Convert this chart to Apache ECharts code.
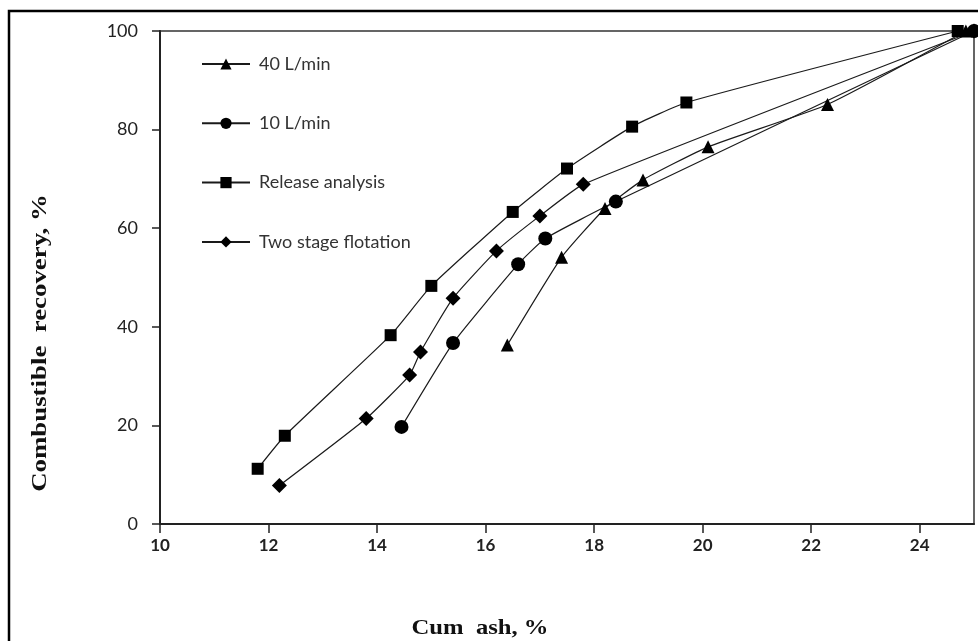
<!DOCTYPE html>
<html>
<head>
<meta charset="utf-8">
<script src="https://cdn.jsdelivr.net/npm/echarts@6/dist/echarts.min.js"></script>
<style>html,body{margin:0;padding:0;background:#fff;}#c{width:978px;height:641px;}</style>
</head>
<body>
<div id="c"></div>
<script>
var seriesNames = ['40 L/min', '10 L/min', 'Release analysis', 'Two stage flotation'];
var seriesSymbols = ['triangle', 'circle', 'rect', 'diamond'];
var flow40 = [[16.4,36.3],[17.4,54.1],[18.2,64.0],[18.9,69.8],[20.1,76.5],[22.3,85.1],[24.85,100]];
var flow10 = [[14.45,19.7],[15.4,36.7],[16.6,52.7],[17.1,57.9],[18.4,65.4],[25,100]];
var releaseAnalysis = [[11.8,11.2],[12.3,17.9],[14.25,38.3],[15.0,48.3],[16.5,63.3],[17.5,72.1],[18.7,80.6],[19.7,85.5],[24.7,100]];
var twoStage = [[12.2,7.8],[13.8,21.4],[14.6,30.2],[14.8,34.9],[15.4,45.8],[16.2,55.4],[17.0,62.5],[17.8,68.9],[25,100]];
var xTitle = 'Cum  ash, %';
var yTitle = 'Combustible  recovery, %';

var dataSets = [flow40, flow10, releaseAnalysis, twoStage];
var symSizes = [13, 14, 12, 15];

var chart = echarts.init(document.getElementById('c'));
var series = dataSets.map(function (d, i) {
  return {
    name: seriesNames[i],
    type: 'line',
    data: d,
    symbol: seriesSymbols[i],
    symbolSize: symSizes[i],
    smooth: 0.15,
    clip: false,
    lineStyle: { color: '#1a1a1a', width: 1.2 },
    itemStyle: { color: '#000' },
    emphasis: { disabled: true },
    z: 3
  };
});

chart.setOption({
  animation: false,
  backgroundColor: '#fff',
  grid: { left: 160, right: 4, top: 31, bottom: 117, show: true, borderColor: '#333', borderWidth: 1.5, backgroundColor: 'transparent' },
  legend: {
    orient: 'vertical',
    left: 196,
    top: 50,
    itemGap: 41.3,
    itemWidth: 48,
    itemHeight: 14,
    textStyle: { fontFamily: 'Lato', fontSize: 18, color: '#333', padding: [0, 0, 0, 4] },
    data: seriesNames
  },
  xAxis: {
    type: 'value', min: 10, max: 25, interval: 2,
    axisLine: { lineStyle: { color: '#222', width: 2 } },
    axisTick: { show: true, length: 9, inside: false, lineStyle: { color: '#222', width: 1.5 } },
    splitLine: { show: false },
    axisLabel: { margin: 13, fontFamily: 'Lato', fontWeight: 'bold', fontSize: 17, color: '#222', showMaxLabel: false }
  },
  yAxis: {
    type: 'value', min: 0, max: 100, interval: 20,
    axisLine: { show: true, lineStyle: { color: '#222', width: 2 } },
    axisTick: { show: true, length: 8, inside: false, lineStyle: { color: '#222', width: 1.5 } },
    splitLine: { show: false },
    axisLabel: { margin: 22, fontFamily: 'Lato', fontSize: 18, color: '#222' }
  },
  graphic: [
    { type: 'rect', shape: { x: 9, y: 11, width: 1100, height: 800 }, style: { fill: 'none', stroke: '#000', lineWidth: 2.5 }, silent: true, z: 0 },
    { type: 'text', x: 480, y: 628, scaleX: 1.12, style: { text: xTitle, font: 'bold 22px "Liberation Serif"', fill: '#111', textAlign: 'center', textVerticalAlign: 'middle' } },
    { type: 'text', x: 40, y: 343, rotation: Math.PI / 2, scaleX: 1.22, style: { text: yTitle, font: 'bold 22px "Liberation Serif"', fill: '#111', textAlign: 'center', textVerticalAlign: 'middle' } }
  ],
  series: series
});
</script>
</body>
</html>
